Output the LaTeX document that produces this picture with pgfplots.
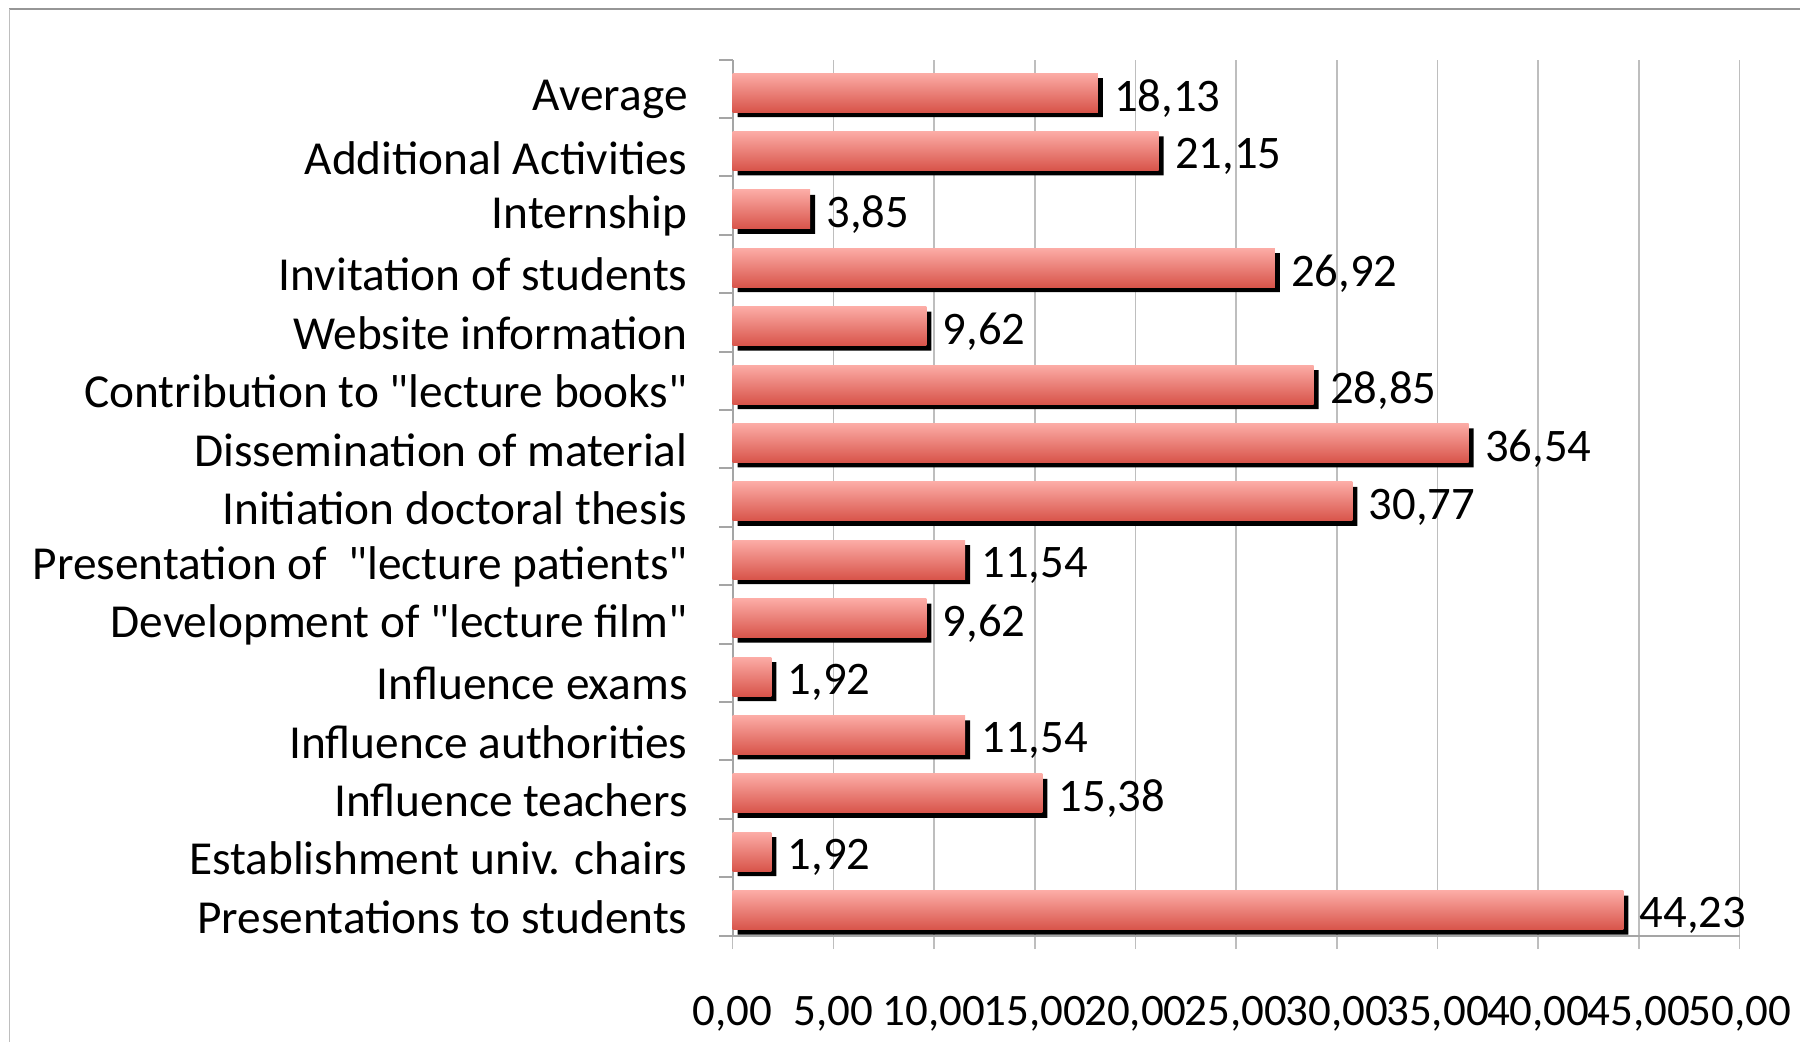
\documentclass[border=0pt]{standalone}
\usepackage{fontspec}
\setmainfont{Carlito}[Ligatures=TeXOff]
\usepackage{pgfplots}
\pgfplotsset{compat=1.18}
\usepackage{pgfplotstable}
\definecolor{bartop}{RGB}{252,172,166}
\definecolor{barbot}{RGB}{216,84,74}
\definecolor{gridc}{RGB}{190,190,190}
\definecolor{axc}{RGB}{165,165,165}
\definecolor{framec}{RGB}{150,150,150}

\pgfplotstableread{
y val
0 44.23
1 1.92
2 15.38
3 11.54
4 1.92
5 9.62
6 11.54
7 30.77
8 36.54
9 28.85
10 9.62
11 26.92
12 3.85
13 21.15
14 18.13
}\datatable

\pgfplotsset{
  mybar/.style={xbar, bar width=11.7pt, bar shift=0pt, draw=none,
    top color=bartop, bottom color=barbot, yshift=-1.1pt,
    nodes near coords={\pgfmathprintnumber[fixed,fixed zerofill,precision=2,use comma,assume math mode=true]{\pgfplotspointmeta}},
    every node near coord/.append style={font=\fontsize{14}{16}\selectfont, black, anchor=west, xshift=1.4pt, yshift=-1.7pt},
    point meta=x},
}

\begin{document}
\begin{tikzpicture}
\path[use as bounding box] (-219.8pt,-31.9pt) rectangle (320.2pt,280.7pt);
\draw[framec, line width=0.8pt] (-217.0pt,278.0pt) -- (320.2pt,278.0pt);
\draw[gridc, line width=0.4pt] (-217.0pt,278.0pt) -- (-217.0pt,-31.9pt);
\begin{axis}[
  at={(0,0)}, anchor=south west,
  scale only axis,
  width=302.1pt, height=262.8pt,
  xmin=0, xmax=50,
  ymin=-0.5, ymax=14.5,
  axis x line*=bottom, axis y line*=left,
  axis line style={axc, line width=0.6pt},
  xtick={0,5,...,50},
  xmajorgrids,
  grid style={gridc, line width=0.5pt},
  major x tick style={gridc, line width=0.5pt},
  tick align=outside,
  major tick length=4pt,
  ytick={0,...,14},
  major y tick style={draw=none},
  minor ytick={-0.5,0.5,...,14.5},
  minor y tick style={axc, line width=0.6pt},
  minor tick length=4pt,
  /pgf/number format/assume math mode=true,
  xticklabel={\pgfmathprintnumber[fixed,fixed zerofill,precision=2,use comma]{\tick}},
  xticklabel style={font=\fontsize{13.5}{15}\selectfont, yshift=-10.6pt},
  yticklabels={
    {Presentations to students},
    {Establishment univ. chairs},
    {Influence teachers},
    {Influence authorities},
    {Influence exams},
    {Development of "lecture film"},
    {Presentation of\ \ "lecture patients"},
    {Initiation doctoral thesis},
    {Dissemination of material},
    {Contribution to "lecture books"},
    {Website information},
    {Invitation of students},
    {Internship},
    {Additional Activities},
    {Average}},
  yticklabel style={font=\fontsize{14.2}{16}\selectfont, xshift=-6pt, yshift=-3.2pt},
]
\addplot[xbar, bar width=11.7pt, bar shift=0pt, fill=black, draw=none,
  xshift=1.5pt, yshift=-2.6pt] table[x=val, y=y] {\datatable};
\addplot[mybar] coordinates {(44.23,0)};
\addplot[mybar] coordinates {(1.92,1)};
\addplot[mybar] coordinates {(15.38,2)};
\addplot[mybar] coordinates {(11.54,3)};
\addplot[mybar] coordinates {(1.92,4)};
\addplot[mybar] coordinates {(9.62,5)};
\addplot[mybar] coordinates {(11.54,6)};
\addplot[mybar] coordinates {(30.77,7)};
\addplot[mybar] coordinates {(36.54,8)};
\addplot[mybar] coordinates {(28.85,9)};
\addplot[mybar] coordinates {(9.62,10)};
\addplot[mybar] coordinates {(26.92,11)};
\addplot[mybar] coordinates {(3.85,12)};
\addplot[mybar] coordinates {(21.15,13)};
\addplot[mybar] coordinates {(18.13,14)};
\end{axis}
\end{tikzpicture}
\end{document}
